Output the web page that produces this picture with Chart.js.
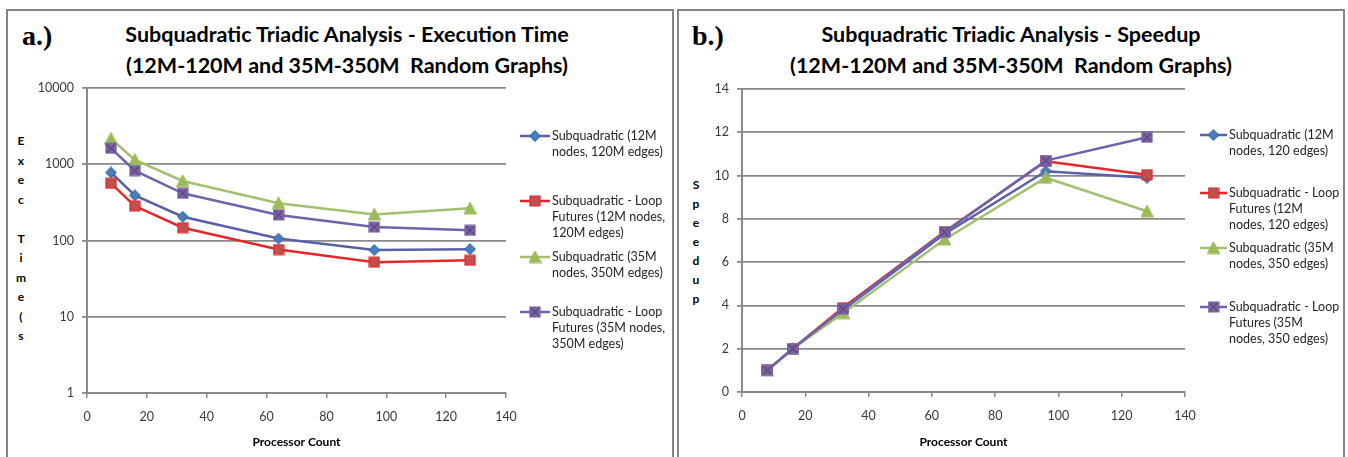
<!DOCTYPE html>
<html>
<head>
<meta charset="utf-8">
<script src="https://cdn.jsdelivr.net/npm/chart.js@4.4.1/dist/chart.umd.min.js"></script>
<style>
  body { margin: 0; background: #fff; width: 1348px; height: 457px; overflow: hidden; position: relative; font-family: Lato, 'Open Sans', sans-serif; }
  .panel { position: absolute; top: 9px; height: 470px; border: 2px solid #858585; box-sizing: border-box; }
  .tag { position: absolute; top: 20px; font: bold 28px 'Liberation Serif', serif; color: #000; }
  .title { position: absolute; top: 19px; width: 674px; text-align: center; font: bold 21.5px Lato, sans-serif; line-height: 31px; color: #000; }
  .vlabel { position: absolute; font: bold 12px Lato, sans-serif; color: #000; width: 14px; text-align: center; }
  canvas { position: absolute; top: 0; }
</style>
</head>
<body>
<div class="panel" style="left:6px; width:668px;"></div>
<div class="panel" style="left:677px; width:668px;"></div>

<div class="tag" style="left:22px;">a.)</div>
<div class="tag" style="left:692px;">b.)</div>
<div class="title" style="left:10px;">Subquadratic Triadic Analysis - Execution Time<br>(12M-120M and 35M-350M&nbsp; Random Graphs)</div>
<div class="title" style="left:674px;">Subquadratic Triadic Analysis - Speedup<br>(12M-120M and 35M-350M&nbsp; Random Graphs)</div>

<div id="timeAxisLabel"></div>
<div id="speedAxisLabel"></div>

<canvas id="timeChart" width="674" height="457" style="left:0;"></canvas>
<canvas id="speedChart" width="674" height="457" style="left:674px;"></canvas>

<script>
// ==========================================================
// Data
// ==========================================================
const procCounts = [8, 16, 32, 64, 96, 128];

const execSubq12 = [780, 390, 205, 106, 75, 77];
const execLoop12 = [562, 283, 147, 76, 52, 55];
const execSubq35 = [2160, 1140, 603, 308, 220, 264];
const execLoop35 = [1620, 824, 416, 216, 150, 136];

const speedSubq12 = [1, 2, 3.8, 7.3, 10.2, 9.9];
const speedLoop12 = [1, 2, 3.9, 7.4, 10.66, 10.04];
const speedSubq35 = [1, 2, 3.65, 7.05, 9.9, 8.35];
const speedLoop35 = [1, 2, 3.83, 7.38, 10.69, 11.77];

const timeTicks = [1, 10, 100, 1000, 10000];

const timeLegend = [
  ['Subquadratic (12M', 'nodes, 120M edges)'],
  ['Subquadratic - Loop', 'Futures (12M nodes,', '120M edges)'],
  ['Subquadratic (35M', 'nodes, 350M edges)'],
  ['Subquadratic - Loop', 'Futures (35M nodes,', '350M edges)']
];
const speedLegend = [
  ['Subquadratic (12M', 'nodes, 120 edges)'],
  ['Subquadratic - Loop', 'Futures (12M', 'nodes, 120 edges)'],
  ['Subquadratic (35M', 'nodes, 350 edges)'],
  ['Subquadratic - Loop', 'Futures (35M', 'nodes, 350 edges)']
];

const timeAxisLetters = ['E', 'x', 'e', 'c', '', 'T', 'i', 'm', 'e', '(', 's'];
const speedAxisLetters = ['S', 'p', 'e', 'e', 'd', 'u', 'p'];

// ==========================================================
// Marker images
// ==========================================================
function makeMarker(shape, fill, stroke, size) {
  const c = document.createElement('canvas');
  c.width = size; c.height = size;
  const g = c.getContext('2d');
  const m = size / 2;
  g.fillStyle = fill;
  g.strokeStyle = stroke;
  g.lineWidth = 1.2;
  g.beginPath();
  if (shape === 'diamond') {
    g.moveTo(m, 0.8); g.lineTo(size - 0.8, m); g.lineTo(m, size - 0.8); g.lineTo(0.8, m);
  } else if (shape === 'triangle') {
    g.moveTo(m, 0.5); g.lineTo(size - 0.5, size - 1); g.lineTo(0.5, size - 1);
  } else {
    g.rect(1, 1, size - 2, size - 2);
  }
  g.closePath();
  g.fill();
  g.stroke();
  if (shape === 'squareX') {
    g.strokeStyle = '#5b4585';
    g.lineWidth = 1.3;
    g.beginPath();
    g.moveTo(2, 2); g.lineTo(size - 2, size - 2);
    g.moveTo(size - 2, 2); g.lineTo(2, size - 2);
    g.stroke();
  }
  return c;
}

const markerDiamond = makeMarker('diamond', '#4a7ebb', '#3c6db0', 12);
const markerSquare = makeMarker('square', '#c0504d', '#e5262b', 12);
const markerTriangle = makeMarker('triangle', '#9bbb59', '#9bbb59', 13);
const markerSquareX = makeMarker('squareX', '#8064a2', '#6f60aa', 12);

const seriesStyles = [
  { color: '#5b5fa7', marker: markerDiamond },
  { color: '#e5262b', marker: markerSquare },
  { color: '#a2c170', marker: markerTriangle },
  { color: '#6a66ab', marker: markerSquareX }
];

function buildDatasets(seriesList) {
  return seriesList.map(function(values, i) {
    return {
      data: values.map(function(v, k) { return { x: procCounts[k], y: v }; }),
      borderColor: seriesStyles[i].color,
      backgroundColor: seriesStyles[i].color,
      borderWidth: 2.5,
      pointStyle: seriesStyles[i].marker,
      pointRadius: 6,
      tension: 0,
      order: 3 - i
    };
  });
}

// ==========================================================
// Side legend (drawn on the canvas)
// ==========================================================
const sideLegend = {
  id: 'sideLegend',
  afterDraw: function(chart, args, opts) {
    const ctx = chart.ctx;
    ctx.save();
    ctx.font = '12.5px Lato, sans-serif';
    ctx.fillStyle = '#262626';
    ctx.textBaseline = 'middle';
    chart.data.datasets.forEach(function(ds, i) {
      const y = opts.ys[i];
      ctx.strokeStyle = ds.borderColor;
      ctx.lineWidth = ds.borderWidth;
      ctx.beginPath();
      ctx.moveTo(opts.x0, y);
      ctx.lineTo(opts.x1, y);
      ctx.stroke();
      const img = ds.pointStyle;
      ctx.drawImage(img, (opts.x0 + opts.x1) / 2 - img.width / 2, y - img.height / 2);
      opts.labels[i].forEach(function(line, k) {
        ctx.fillText(line, opts.tx, y + k * 16);
      });
    });
    ctx.restore();
  }
};

// ==========================================================
// Common axis options
// ==========================================================
const gridGray = '#8a8a8a';
const tickFont = { family: 'Lato', size: 12.5 };

function xAxis(height) {
  return {
    type: 'linear',
    min: 0, max: 140,
    ticks: { stepSize: 20, color: '#3a3a3a', font: tickFont, padding: 11 },
    grid: { drawOnChartArea: false, drawTicks: true, tickLength: 5, color: gridGray, lineWidth: 1.5 },
    border: { display: true, color: gridGray, width: 2 },
    title: { display: true, text: 'Processor Count', color: '#000', font: { family: 'Lato', size: 12, weight: 'bold' }, padding: { top: 0, bottom: 8 } },
    afterFit: function(scale) { scale.height = height; }
  };
}

// ==========================================================
// a.) Execution time (log scale)
// ==========================================================
new Chart(document.getElementById('timeChart'), {
  type: 'line',
  data: { datasets: buildDatasets([execSubq12, execLoop12, execSubq35, execLoop35]) },
  options: {
    responsive: false,
    animation: false,
    layout: { padding: { left: 0, top: 88, right: 168, bottom: 0 } },
    plugins: {
      legend: { display: false },
      tooltip: { enabled: false },
      sideLegend: { x0: 520, x1: 550, tx: 552, ys: [136, 201, 257, 312], labels: timeLegend }
    },
    scales: {
      x: xAxis(64),
      y: {
        type: 'logarithmic',
        min: 1, max: 10000,
        afterBuildTicks: function(scale) {
          scale.ticks = timeTicks.map(function(v) { return { value: v }; });
        },
        ticks: { color: '#3a3a3a', font: tickFont, padding: 8, callback: function(v) { return String(v); } },
        grid: { color: gridGray, lineWidth: 1.8, tickLength: 5 },
        border: { display: true, color: gridGray, width: 2 },
        afterFit: function(scale) { scale.width = 87; }
      }
    }
  },
  plugins: [sideLegend]
});

// ==========================================================
// b.) Speedup
// ==========================================================
new Chart(document.getElementById('speedChart'), {
  type: 'line',
  data: { datasets: buildDatasets([speedSubq12, speedLoop12, speedSubq35, speedLoop35]) },
  options: {
    responsive: false,
    animation: false,
    layout: { padding: { left: 0, top: 89, right: 163, bottom: 0 } },
    plugins: {
      legend: { display: false },
      tooltip: { enabled: false },
      sideLegend: { x0: 526, x1: 553, tx: 555, ys: [135, 193, 248, 307], labels: speedLegend }
    },
    scales: {
      x: xAxis(65),
      y: {
        type: 'linear',
        min: 0, max: 14,
        ticks: { stepSize: 2, color: '#3a3a3a', font: tickFont, padding: 8 },
        grid: { color: gridGray, lineWidth: 1.8, tickLength: 5 },
        border: { display: true, color: gridGray, width: 2 },
        afterFit: function(scale) { scale.width = 68; }
      }
    }
  },
  plugins: [sideLegend]
});

// ==========================================================
// Stacked vertical axis titles
// ==========================================================
function stackLetters(id, letters, left, top, step) {
  const host = document.getElementById(id);
  letters.forEach(function(ch, i) {
    const d = document.createElement('div');
    d.className = 'vlabel';
    d.style.left = left + 'px';
    d.style.top = (top + i * step) + 'px';
    d.textContent = ch;
    host.appendChild(d);
  });
}
stackLetters('timeAxisLabel', timeAxisLetters, 14, 133, 19.5);
stackLetters('speedAxisLabel', speedAxisLetters, 689, 177, 19);
</script>
</body>
</html>
